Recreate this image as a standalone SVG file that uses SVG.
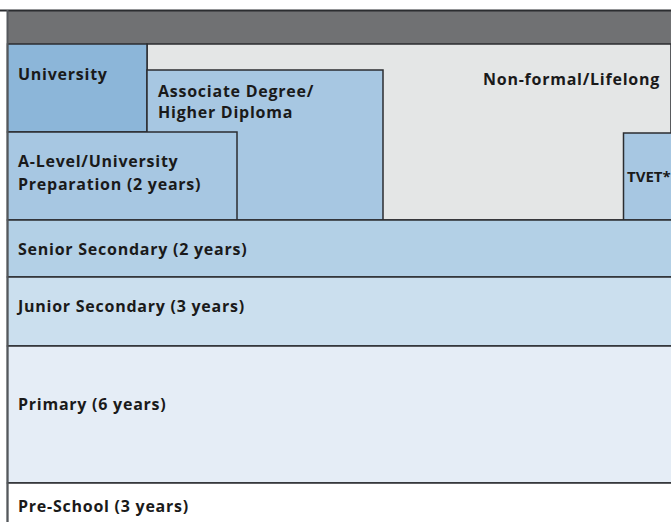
<svg xmlns="http://www.w3.org/2000/svg" width="671" height="522" viewBox="0 0 671 522">
<style>
.b{stroke:#2b2d30;stroke-width:1.5}
.t{font-family:"Open Sans","Noto Sans","Liberation Sans",sans-serif;font-weight:bold;font-size:16px;letter-spacing:0.75px;fill:#1a1a1a}
</style>
<rect width="671" height="522" fill="#ffffff"/>
<g id="header"><rect x="7" y="10.5" width="664" height="33.5" fill="#707173"/></g>
<g id="nonformal"><rect x="147" y="44" width="524" height="176" fill="#e4e6e6" class="b"/><text class="t" x="483" y="85">Non-formal/Lifelong</text></g>
<g id="university"><rect x="7.5" y="44" width="139.5" height="88" fill="#8cb6d9" class="b"/><text class="t" x="18" y="80">University</text></g>
<g id="associate"><rect x="147" y="70" width="236" height="150" fill="#a7c7e2" class="b"/><text class="t" x="158" y="97">Associate Degree/</text><text class="t" x="158" y="118">Higher Diploma</text></g>
<g id="alevel"><rect x="7.5" y="132" width="229.5" height="88" fill="#a7c7e2" class="b"/><text class="t" x="18" y="167">A-Level/University</text><text class="t" x="18" y="190">Preparation (2 years)</text></g>
<g id="tvet"><rect x="623.5" y="133" width="50" height="87" fill="#a7c7e2" class="b"/><text class="t" x="627" y="182" style="font-size:15px;letter-spacing:0">TVET*</text></g>
<g id="senior"><rect x="7.5" y="220" width="666" height="57" fill="#b3d0e6" class="b"/><text class="t" x="18" y="255">Senior Secondary (2 years)</text></g>
<g id="junior"><rect x="7.5" y="277" width="666" height="69" fill="#cbdfee" class="b"/><text class="t" x="18" y="312">Junior Secondary (3 years)</text></g>
<g id="primary"><rect x="7.5" y="346" width="666" height="137" fill="#e5edf6" class="b"/><text class="t" x="18" y="410">Primary (6 years)</text></g>
<g id="preschool"><rect x="7.5" y="483" width="666" height="45" fill="#ffffff" class="b"/><text class="t" x="18" y="512">Pre-School (3 years)</text></g>
<g id="connectors"><line x1="0" y1="10.5" x2="671" y2="10.5" stroke="#2b2d30" stroke-width="2"/><line x1="7.5" y1="10" x2="7.5" y2="522" stroke="#55585c" stroke-width="2"/></g>
</svg>
